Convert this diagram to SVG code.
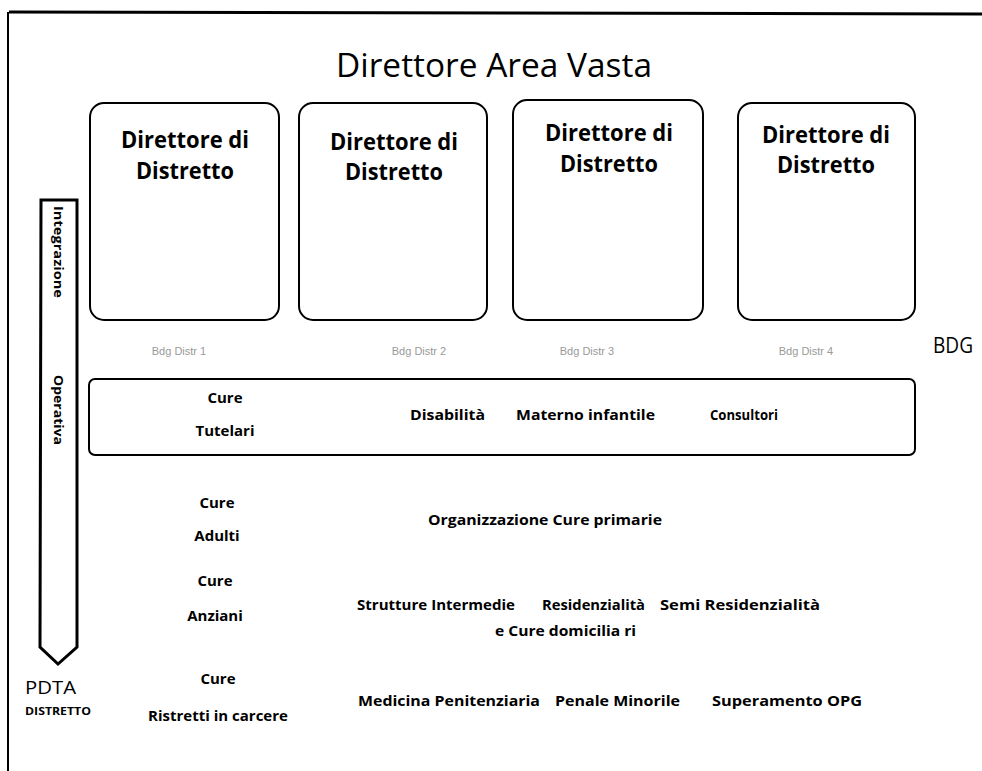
<svg xmlns="http://www.w3.org/2000/svg" width="982" height="771" viewBox="0 0 982 771">
<style>
.t{font-family:"Open Sans","Liberation Sans",sans-serif;fill:#000}
.h{font-size:32px}
.bx{font-size:24px;font-weight:bold;text-anchor:middle}
.b{font-size:15px;font-weight:bold}
.c{text-anchor:middle}
.g{font-family:"Liberation Sans",sans-serif;font-size:11px;fill:#999;text-anchor:middle}
.box{fill:#fff;stroke:#000;stroke-width:2}
</style>
<rect width="982" height="771" fill="#fff"/>
<g id="frame">
<path d="M9,12 L982,14" stroke="#000" stroke-width="3" fill="none"/>
<path d="M8,12 V771" stroke="#000" stroke-width="2" fill="none"/>
</g>
<g id="title"><text class="t h" x="494" y="77" text-anchor="middle" textLength="316" lengthAdjust="spacingAndGlyphs">Direttore Area Vasta</text></g>
<g id="d1"><rect class="box" x="90" y="103" width="189" height="217" rx="14"/>
<text class="t bx" x="185" y="148" textLength="128" lengthAdjust="spacingAndGlyphs">Direttore di</text>
<text class="t bx" x="185" y="179" textLength="98" lengthAdjust="spacingAndGlyphs">Distretto</text></g>
<g id="d2"><rect class="box" x="299" y="103" width="188" height="217" rx="14"/>
<text class="t bx" x="394" y="150" textLength="128" lengthAdjust="spacingAndGlyphs">Direttore di</text>
<text class="t bx" x="394" y="180" textLength="98" lengthAdjust="spacingAndGlyphs">Distretto</text></g>
<g id="d3"><rect class="box" x="513" y="100" width="190" height="220" rx="14"/>
<text class="t bx" x="609" y="141" textLength="128" lengthAdjust="spacingAndGlyphs">Direttore di</text>
<text class="t bx" x="609" y="172" textLength="98" lengthAdjust="spacingAndGlyphs">Distretto</text></g>
<g id="d4"><rect class="box" x="738" y="103" width="177" height="217" rx="14"/>
<text class="t bx" x="826" y="143" textLength="128" lengthAdjust="spacingAndGlyphs">Direttore di</text>
<text class="t bx" x="826" y="173" textLength="98" lengthAdjust="spacingAndGlyphs">Distretto</text></g>
<g id="bdg">
<text class="g" x="179" y="355">Bdg Distr 1</text>
<text class="g" x="419" y="355">Bdg Distr 2</text>
<text class="g" x="587" y="355">Bdg Distr 3</text>
<text class="g" x="806" y="355">Bdg Distr 4</text>
<text class="t" x="953" y="353" font-size="21" text-anchor="middle" textLength="40" lengthAdjust="spacingAndGlyphs">BDG</text>
</g>
<g id="arrow">
<path d="M41,200 H77 V647 L58,664 L40,647 Z" fill="#fff" stroke="#000" stroke-width="3" stroke-linejoin="miter"/>
<text class="t" font-size="12" font-weight="bold" text-anchor="middle" transform="translate(54,252) rotate(90)" textLength="92" lengthAdjust="spacingAndGlyphs">Integrazione</text>
<text class="t" font-size="12" font-weight="bold" text-anchor="middle" transform="translate(54,410) rotate(90)" textLength="70" lengthAdjust="spacingAndGlyphs">Operativa</text>
</g>
<g id="pdta">
<text class="t" x="25" y="694" font-size="19" textLength="51" lengthAdjust="spacingAndGlyphs">PDTA</text>
<text class="t" x="25" y="715" font-size="10" font-weight="bold" textLength="66" lengthAdjust="spacingAndGlyphs">DISTRETTO</text>
</g>
<g id="tutelari"><rect class="box" x="89" y="379" width="826" height="76" rx="6"/>
<text class="t b c" x="225" y="403">Cure</text>
<text class="t b c" x="225" y="436">Tutelari</text>
<text class="t b" x="410" y="420" textLength="75" lengthAdjust="spacingAndGlyphs">Disabilità</text>
<text class="t b" x="516" y="420" textLength="139" lengthAdjust="spacingAndGlyphs">Materno infantile</text>
<text class="t b" x="710" y="420" textLength="68" lengthAdjust="spacingAndGlyphs">Consultori</text>
</g>
<g id="adulti">
<text class="t b c" x="217" y="508">Cure</text>
<text class="t b c" x="217" y="541">Adulti</text>
<text class="t b" x="428" y="525" textLength="234" lengthAdjust="spacingAndGlyphs">Organizzazione   Cure   primarie</text>
</g>
<g id="anziani">
<text class="t b c" x="215" y="586">Cure</text>
<text class="t b c" x="215" y="621">Anziani</text>
<text class="t b" x="357" y="610" textLength="158" lengthAdjust="spacingAndGlyphs">Strutture Intermedie</text>
<text class="t b" x="542" y="610" textLength="103" lengthAdjust="spacingAndGlyphs">Residenzialità</text>
<text class="t b" x="660" y="610" textLength="160" lengthAdjust="spacingAndGlyphs">Semi Residenzialità</text>
<text class="t b" x="495" y="636" textLength="141" lengthAdjust="spacingAndGlyphs">e Cure domicilia ri</text>
</g>
<g id="carcere">
<text class="t b c" x="218" y="684">Cure</text>
<text class="t b c" x="218" y="721">Ristretti in carcere</text>
<text class="t b" x="358" y="706" textLength="182" lengthAdjust="spacingAndGlyphs">Medicina Penitenziaria</text>
<text class="t b" x="555" y="706" textLength="125" lengthAdjust="spacingAndGlyphs">Penale Minorile</text>
<text class="t b" x="712" y="706" textLength="150" lengthAdjust="spacingAndGlyphs">Superamento OPG</text>
</g>
</svg>
